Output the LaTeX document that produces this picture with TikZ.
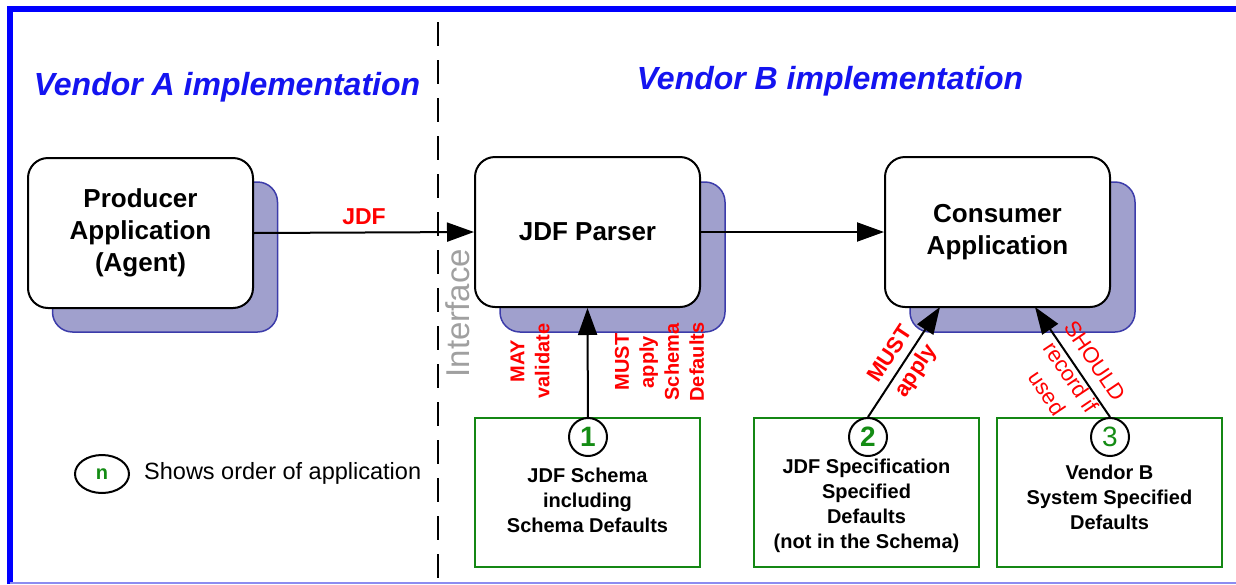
\documentclass[tikz,border=0pt]{standalone}
\usepackage{fontspec}
\setmainfont{Liberation Sans}
\usetikzlibrary{arrows.meta,shapes.geometric}
\definecolor{frameblue}{RGB}{0,0,255}
\definecolor{framelight}{RGB}{140,140,240}
\definecolor{titleblue}{RGB}{20,20,240}
\definecolor{shfill}{RGB}{160,160,205}
\definecolor{shdraw}{RGB}{60,60,170}
\definecolor{gborder}{RGB}{20,135,20}
\definecolor{gnum}{RGB}{20,140,20}
\definecolor{rlab}{RGB}{255,0,0}
\definecolor{ifgray}{RGB}{160,160,160}
\newcommand\fsz[2]{\fontsize{#1}{#2}\selectfont}
\begin{document}
\begin{tikzpicture}[x=1pt,y=-1pt,
  shadowbox/.style={fill=shfill,draw=shdraw,line width=1.5pt,rounded corners=20pt,minimum width=225pt,minimum height=150pt,inner sep=0pt},
  appbox/.style={fill=white,draw=black,line width=2pt,rounded corners=20pt,minimum width=225pt,minimum height=150pt,inner sep=0pt,align=center,font=\bfseries\fsz{26}{32}},
  gbox/.style={draw=gborder,line width=2.5pt,minimum width=225pt,minimum height=149pt,inner sep=0pt},
  btext/.style={align=center,font=\bfseries\fsz{20}{25},inner sep=0pt},
  ordc/.style={circle,draw=black,line width=2pt,fill=white,minimum size=38pt,inner sep=0pt,text=gnum,font=\bfseries\fsz{28}{30}},
  conn/.style={line width=2pt,-{Triangle[length=27pt,width=19pt]}},
  redlab/.style={text=rlab,align=center,font=\bfseries\fsz{20}{25},inner sep=0pt},
  title/.style={text=titleblue,font=\bfseries\itshape\fsz{32}{36},inner sep=0pt}
]
\useasboundingbox (0,0) rectangle (1236,584);
% frame
\draw[frameblue,line width=6pt] (10,584) -- (10,9) -- (1236,9);
\draw[framelight,line width=1.5pt] (10,583.2) -- (1236,583.2);
% interface line
\draw[line width=2.5pt,dash pattern=on 24pt off 14pt] (438,22) -- (438,584);
\node[text=ifgray,rotate=90,font=\fsz{33}{36},inner sep=0pt] (iface) at (458,313) {Interface};
% titles
\node[title] (ta) at (227,87) {Vendor A implementation};
\node[title] (tb) at (830,81) {Vendor B implementation};
% shadows
\node[shadowbox] (sp) at (165,257) {};
\node[shadowbox] (sj) at (612.5,257) {};
\node[shadowbox] (sc) at (1022.5,257) {};
% boxes
\node[appbox] (prod) at (140.5,233) {Producer\\Application\\(Agent)};
\node[appbox] (pars) at (587.5,232) {JDF Parser};
\node[appbox] (cons) at (997.5,232) {Consumer\\Application};
% main connectors
\draw[conn] (prod.east) -- (pars.west) node[midway,above=7pt,text=rlab,font=\bfseries\fsz{23}{26},inner sep=0pt] (jdf) {JDF};
\draw[conn] (pars.east) -- (cons.west);
% green boxes
\node[gbox] (g1) at (587.5,492.5) {};
\node[gbox] (g2) at (866.5,492.5) {};
\node[gbox] (g3) at (1109.5,492.5) {};
\node[btext] (t1) at (587.5,500) {JDF Schema\\including\\Schema Defaults};
\node[btext] (t2) at (866.5,506) {JDF Specification\\Specified\\Defaults\\(not in the Schema)};
\node[btext] (t3) at (1109.5,497) {Vendor B\\System Specified\\Defaults};
% order circles
\node[ordc] (c1) at (588,437) {1};
\node[ordc] (c2) at (868,437) {2};
\node[ordc,font=\fsz{28}{30}] (c3) at (1110,437) {3};
\coordinate (e2) at (940,307);
\coordinate (e3) at (1035,307);
\draw[conn] (c1) -- (pars.south);
\draw[conn] (c2.north) -- (e2);
\draw[conn] (c3.north) -- (e3);
% red labels
\node[redlab,rotate=90] (l1) at (530,361) {MAY\\validate};
\node[redlab,rotate=90] (l2) at (659.5,362) {MUST\\apply\\Schema\\Defaults};
\node[redlab,rotate=56.5,font=\bfseries\fsz{22}{30}] (l3) at (904,363) {MUST\\apply};
\node[redlab,rotate=-56,font=\fsz{22}{29}] (l4) at (1071,377) {SHOULD\\record if\\used};
% legend
\node[draw=black,line width=2pt,ellipse,minimum width=54pt,minimum height=38pt,inner sep=0pt,text=gnum,font=\bfseries\fsz{20}{22}] (leg) at (102,474) {n};
\node[anchor=west,font=\fsz{23.5}{26},inner sep=0pt] (legt) at (144,473) {Shows order of application};
\end{tikzpicture}
\end{document}
